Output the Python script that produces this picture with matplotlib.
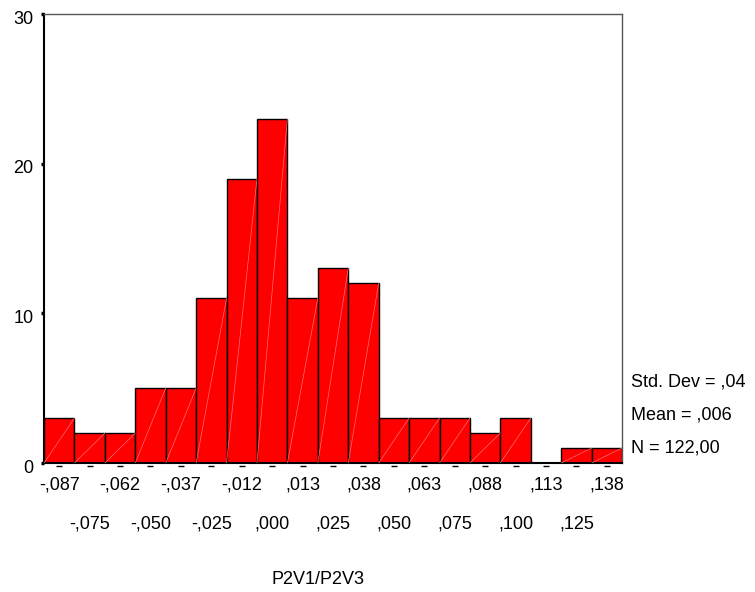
import matplotlib.pyplot as plt
import matplotlib.transforms as mtransforms
import numpy as np

plt.rcParams['font.family'] = ['Liberation Sans', 'DejaVu Sans']

# histogram of P2V1/P2V3, bin width 0.0125
bin_width = 0.0125
first_center = -0.0875
counts = [3, 2, 2, 5, 5, 11, 19, 23, 11, 13, 12, 3, 3, 3, 2, 3, 0, 1, 1]
tick_labels = ["-,087", "-,075", "-,062", "-,050", "-,037", "-,025", "-,012", ",000",
               ",013", ",025", ",038", ",050", ",063", ",075", ",088", ",100",
               ",113", ",125", ",138"]
stats = ["Std. Dev = ,04", "Mean = ,006", "N = 122,00"]
yticks = [0, 10, 20, 30]

centers = first_center + bin_width * np.arange(len(counts))
fs = 13

fig = plt.figure(figsize=(7.55, 5.92), dpi=100)
ax = fig.add_axes([0.0583, 0.2179, 0.7656, 0.7584])

ax.bar(centers, counts, width=bin_width, color="#ff0000",
       edgecolor="black", linewidth=1.0, zorder=2)
# faint diagonal line SPSS draws through each bar
for c, h in zip(centers, counts):
    if h > 0:
        ax.plot([c - bin_width / 2, c + bin_width / 2], [0, h],
                color="#ff7070", lw=0.5, zorder=3)

ax.set_xlim(centers[0] - bin_width / 2, centers[-1] + bin_width / 2)
ax.set_ylim(0, 30)

for s in ["top", "right"]:
    ax.spines[s].set_color("#555555")
    ax.spines[s].set_linewidth(1.0)
for s in ["left", "bottom"]:
    ax.spines[s].set_color("black")
    ax.spines[s].set_linewidth(1.5)

ax.set_yticks(yticks)
ax.set_yticklabels([str(v) for v in yticks])
ax.tick_params(axis="y", direction="out", length=2.5, width=2.5, pad=5,
               labelsize=fs, color="black")
# SPSS puts the y labels a little below their tick
off = mtransforms.ScaledTranslation(0, -3 / 100, fig.dpi_scale_trans)
for lab in ax.get_yticklabels():
    lab.set_transform(lab.get_transform() + off)

# alternating two-row x labels
ax.set_xticks(centers[::2])
ax.set_xticklabels(tick_labels[::2])
ax.set_xticks(centers[1::2], minor=True)
ax.set_xticklabels(tick_labels[1::2], minor=True)
ax.tick_params(axis="x", which="major", length=0, pad=9.5, labelsize=fs)
ax.tick_params(axis="x", which="minor", length=0, pad=37.5, labelsize=fs)

# small dash marks under each bin
ax.plot(centers, [-0.006] * len(centers), transform=ax.get_xaxis_transform(),
        ls="none", marker="_", ms=4, mew=1.0, color="black", clip_on=False)

fig.text(318 / 755, 1 - 580 / 592, "P2V1/P2V3", fontsize=fs,
         ha="center", va="center")

for i, t in enumerate(stats):
    fig.text(631 / 755, 1 - (382 + 33 * i) / 592, t, fontsize=fs,
             ha="left", va="center")

fig.savefig("out.png", dpi=100)
